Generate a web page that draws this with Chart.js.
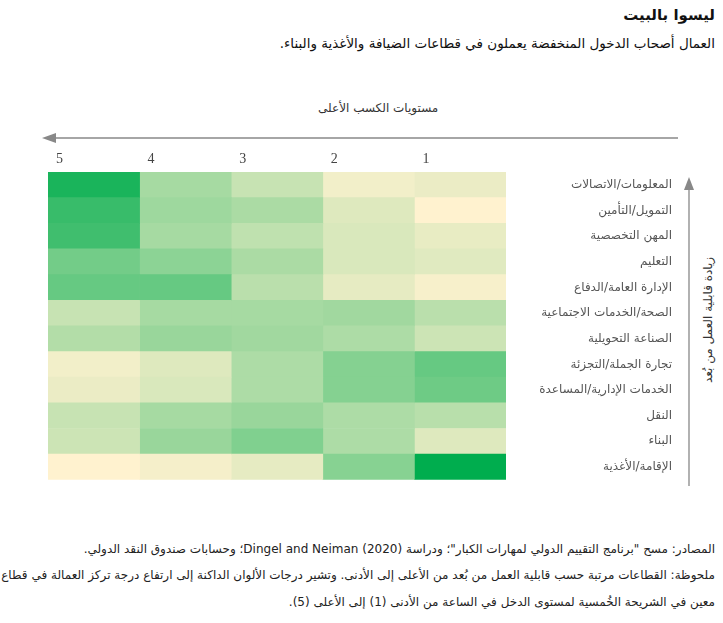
<!DOCTYPE html>
<html><head><meta charset="utf-8">
<script src="https://cdn.jsdelivr.net/npm/chart.js@4"></script>
<style>
body{margin:0;background:#fff;width:723px;height:623px;position:relative;overflow:hidden;font-family:"DejaVu Sans",Arial,sans-serif;color:#222}
.t{position:absolute;right:8px;direction:rtl;text-align:right;white-space:nowrap}
</style></head><body>
<div class="t" style="top:6px;font-weight:bold;font-size:15px;color:#111">ليسوا بالبيت</div>
<div class="t" style="top:35px;font-size:13.5px;color:#111">العمال أصحاب الدخول المنخفضة يعملون في قطاعات الضيافة والأغذية والبناء.</div>
<div class="t" style="top:101px;right:auto;left:318px;font-size:12px;color:#333">مستويات الكسب الأعلى</div>
<svg style="position:absolute;left:0;top:0" width="723" height="623">
<line x1="52" y1="138" x2="678" y2="138" stroke="#888" stroke-width="1.3"/>
<polygon points="42,138 56,133 56,143" fill="#888"/>
<line x1="689" y1="186" x2="689" y2="486" stroke="#888" stroke-width="1.3"/>
<polygon points="689,177 684,190 694,190" fill="#888"/>
<text x="0" y="0" transform="translate(712,320) rotate(-90)" text-anchor="middle" font-size="12" fill="#333" direction="rtl" font-family="DejaVu Sans">زيادة قابلية العمل من بُعد</text>
</svg>
<div style="position:absolute;left:0;top:150px;width:672px;height:340px"><canvas id="c"></canvas></div>
<div class="t" style="top:542px;font-size:12px;color:#222">المصادر: مسح "برنامج التقييم الدولي لمهارات الكبار"؛ ودراسة (2020) Dingel and Neiman؛ وحسابات صندوق النقد الدولي.</div>
<div class="t" style="top:568px;font-size:12px;color:#222">ملحوظة: القطاعات مرتبة حسب قابلية العمل من بُعد من الأعلى إلى الأدنى. وتشير درجات الألوان الداكنة إلى ارتفاع درجة تركز العمالة في قطاع</div>
<div class="t" style="top:595px;font-size:12px;color:#222">معين في الشريحة الخُمسية لمستوى الدخل في الساعة من الأدنى (1) إلى الأعلى (5).</div>
<script>
const sectors=["المعلومات/الاتصالات","التمويل/التأمين","المهن التخصصية","التعليم","الإدارة العامة/الدفاع","الصحة/الخدمات الاجتماعية","الصناعة التحويلية","تجارة الجملة/التجزئة","الخدمات الإدارية/المساعدة","النقل","البناء","الإقامة/الأغذية"];
const quintiles=["5","4","3","2","1"];
// concentration intensity (0..1) per column, quintile 5 .. 1
const q5=[0.9,0.78,0.75,0.55,0.6,0.22,0.3,0.05,0.08,0.22,0.2,0.0];
const q4=[0.35,0.38,0.35,0.45,0.6,0.35,0.4,0.13,0.15,0.35,0.4,0.04];
const q3=[0.22,0.33,0.25,0.33,0.27,0.35,0.37,0.32,0.32,0.4,0.5,0.1];
const q2=[0.05,0.13,0.15,0.15,0.1,0.37,0.32,0.48,0.48,0.32,0.32,0.47];
const q1=[0.08,0.0,0.09,0.12,0.03,0.27,0.2,0.6,0.57,0.28,0.13,1.0];
const cols=[q5,q4,q3,q2,q1];
function col(v){const a=[255,242,207],b=[0,173,78];return 'rgb('+a.map((x,i)=>Math.round(x+(b[i]-x)*v)).join(',')+')';}
const topLabels={id:'tl',afterDraw(ch){const x=ch.scales.x,ctx=ch.ctx;ctx.save();ctx.font='14px "Liberation Serif",serif';ctx.fillStyle='#444';ctx.textBaseline='bottom';
quintiles.forEach((q,i)=>ctx.fillText(q,x.getPixelForValue(i)+8,ch.chartArea.top-6));ctx.restore();}};
new Chart(document.getElementById('c'),{type:'bar',
data:{labels:sectors,datasets:cols.map((c,i)=>({label:quintiles[i],data:sectors.map(()=>1),backgroundColor:c.map(col),borderWidth:0,barPercentage:1,categoryPercentage:1}))},
options:{indexAxis:'y',responsive:true,maintainAspectRatio:false,animation:false,
layout:{padding:{left:48,top:22,bottom:8}},
plugins:{legend:{display:false},tooltip:{enabled:false}},
scales:{x:{stacked:true,min:0,max:5,display:false},
y:{stacked:true,position:'right',grid:{display:false},border:{display:false},
afterFit(s){s.width=166;},
ticks:{crossAlign:'far',color:'#555',font:{size:12,family:'"DejaVu Sans",Arial'}}}}},
plugins:[topLabels]});
</script></body></html>
